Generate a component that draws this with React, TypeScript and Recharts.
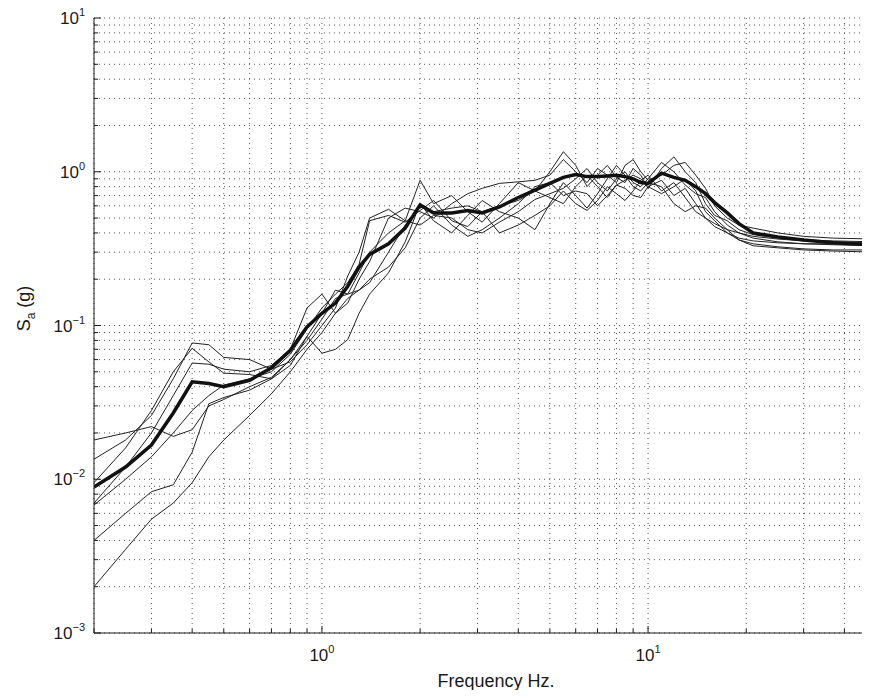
import React from "react";
import { LineChart, Line, XAxis, YAxis, CartesianGrid } from "recharts";

// frequency samples (Hz)
const FREQ = [
  0.2, 0.25, 0.3, 0.35, 0.4, 0.45, 0.5, 0.6, 0.7, 0.8, 0.9, 1.0, 1.1, 1.2, 1.3, 1.4, 1.6, 1.8, 2.0, 2.2,
  2.5, 2.8, 3.1, 3.5, 4.0, 4.5, 5.0, 5.5, 6.0, 6.5, 7.0, 7.5, 8.0, 8.5, 9.0, 9.5, 10, 11, 12, 13,
  14, 15, 16, 17.5, 19, 21, 25, 30, 37, 50,
];

// mean spectrum (thick line)
const MEAN = [
  0.0089, 0.012, 0.0167, 0.027, 0.043, 0.042, 0.04, 0.044, 0.053, 0.069, 0.098, 0.12, 0.14, 0.18, 0.24, 0.29, 0.34, 0.43, 0.61, 0.54,
  0.54, 0.56, 0.54, 0.59, 0.68, 0.76, 0.84, 0.92, 0.96, 0.93, 0.93, 0.94, 0.95, 0.93, 0.9, 0.85, 0.84, 0.98, 0.92, 0.88,
  0.8, 0.72, 0.63, 0.54, 0.46, 0.4, 0.377, 0.36, 0.345, 0.335,
];

// individual records (thin lines)
const REC1 = [
  0.018, 0.02, 0.022, 0.019, 0.021, 0.03, 0.033, 0.04, 0.046, 0.06, 0.085, 0.12, 0.17, 0.16, 0.22, 0.3, 0.4, 0.48, 0.88, 0.62,
  0.7, 0.55, 0.47, 0.62, 0.85, 0.75, 1.0, 1.35, 1.1, 0.8, 0.95, 1.1, 0.92, 0.85, 1.05, 0.95, 0.78, 1.05, 1.25, 1.0,
  0.85, 0.62, 0.52, 0.48, 0.42, 0.39, 0.37, 0.36, 0.355, 0.35,
];
const REC2 = [
  0.0135, 0.018, 0.026, 0.045, 0.077, 0.075, 0.062, 0.06, 0.052, 0.058, 0.075, 0.1, 0.13, 0.21, 0.3, 0.5, 0.57, 0.48, 0.45, 0.52,
  0.5, 0.42, 0.4, 0.47, 0.55, 0.66, 0.72, 0.78, 0.9, 1.05, 0.85, 0.75, 0.9, 1.0, 0.85, 0.8, 0.9, 1.15, 1.0, 0.82,
  0.72, 0.68, 0.55, 0.45, 0.4, 0.37, 0.35, 0.34, 0.335, 0.33,
];
const REC3 = [
  0.0095, 0.016, 0.028, 0.05, 0.071, 0.058, 0.049, 0.048, 0.045, 0.055, 0.085, 0.066, 0.07, 0.081, 0.12, 0.16, 0.22, 0.35, 0.62, 0.48,
  0.4, 0.52, 0.65, 0.55, 0.5, 0.42, 0.62, 0.85, 0.7, 0.58, 0.72, 0.9, 1.1, 0.95, 0.8, 0.75, 0.85, 0.8, 0.62, 0.55,
  0.6, 0.58, 0.5, 0.42, 0.36, 0.33, 0.32, 0.31, 0.305, 0.3,
];
const REC4 = [
  0.007, 0.012, 0.02, 0.035, 0.057, 0.056, 0.052, 0.05, 0.055, 0.07, 0.13, 0.16, 0.12, 0.14, 0.2, 0.26, 0.5, 0.58, 0.55, 0.5,
  0.62, 0.72, 0.78, 0.84, 0.86, 0.88, 0.95, 1.2, 1.0, 0.85, 1.05, 0.95, 0.85, 1.1, 1.2, 1.0, 0.88, 0.95, 1.1, 1.15,
  0.95, 0.78, 0.6, 0.5, 0.45, 0.43, 0.4, 0.38, 0.37, 0.365,
];
const REC5 = [
  0.0068, 0.01, 0.014, 0.02, 0.028, 0.035, 0.041, 0.045, 0.05, 0.065, 0.095, 0.13, 0.16, 0.19, 0.25, 0.48, 0.52, 0.47, 0.56, 0.65,
  0.48, 0.44, 0.55, 0.6, 0.65, 0.75, 0.68, 0.62, 0.8, 0.95, 0.8, 0.68, 0.82, 0.78, 0.7, 0.68, 0.8, 0.72, 0.8, 0.9,
  0.75, 0.55, 0.48, 0.4, 0.37, 0.355, 0.345, 0.34, 0.34, 0.34,
];
const REC6 = [
  0.004, 0.006, 0.0083, 0.0092, 0.015, 0.031, 0.034, 0.038, 0.045, 0.06, 0.08, 0.11, 0.15, 0.16, 0.17, 0.19, 0.3, 0.45, 0.6, 0.55,
  0.58, 0.6, 0.55, 0.4, 0.45, 0.52, 0.6, 0.75, 0.62, 0.56, 0.65, 0.8, 0.72, 0.65, 0.75, 0.88, 0.95, 0.75, 0.85, 0.68,
  0.55, 0.5, 0.46, 0.42, 0.4, 0.38, 0.365, 0.355, 0.35, 0.345,
];
const REC7 = [
  0.002, 0.0035, 0.0055, 0.007, 0.0095, 0.014, 0.018, 0.026, 0.036, 0.05, 0.07, 0.09, 0.12, 0.15, 0.17, 0.2, 0.24, 0.32, 0.5, 0.6,
  0.45, 0.38, 0.42, 0.5, 0.62, 0.8, 0.85, 0.7, 0.75, 0.72, 0.6, 0.7, 0.82, 0.88, 0.95, 0.9, 0.8, 0.88, 0.7, 0.78,
  0.62, 0.5, 0.44, 0.4, 0.36, 0.34, 0.325, 0.315, 0.31, 0.31,
];

const RECORDS = [REC1, REC2, REC3, REC4, REC5, REC6, REC7];

const X_TICKS = [0.2, 0.3, 0.4, 0.5, 0.6, 0.7, 0.8, 0.9, 1, 2, 3, 4, 5, 6, 7, 8, 9, 10, 20, 30, 40, 50];
const Y_TICKS = [
  0.001, 0.002, 0.003, 0.004, 0.005, 0.006, 0.007, 0.008, 0.009,
  0.01, 0.02, 0.03, 0.04, 0.05, 0.06, 0.07, 0.08, 0.09,
  0.1, 0.2, 0.3, 0.4, 0.5, 0.6, 0.7, 0.8, 0.9,
  1, 2, 3, 4, 5, 6, 7, 8, 9, 10,
];

const FONT = "'Liberation Sans', Arial, Helvetica, sans-serif";
const INK = "#1a1a1a";

const isMajor = (v: number) => Math.abs(Math.log10(v) - Math.round(Math.log10(v))) < 1e-6;
const expOf = (v: number) => {
  const e = Math.round(Math.log10(v));
  return e < 0 ? `\u2212${-e}` : `${e}`;
};

const PowerLabel = ({ x, y, v, anchor }: any) => (
  <text x={x} y={y} textAnchor={anchor} fontFamily={FONT} fontSize={17} fill={INK}>
    10
    <tspan dy={-8} fontSize={11}>{expOf(v)}</tspan>
  </text>
);

const BottomTick = ({ x, y, payload }: any) => {
  const major = isMajor(payload.value);
  return (
    <g>
      <line x1={x} y1={y} x2={x} y2={y - (major ? 7 : 4)} stroke={INK} strokeWidth={1} />
      {major && <PowerLabel x={x} y={y + 28} v={payload.value} anchor="middle" />}
    </g>
  );
};

const TopTick = ({ x, y, payload }: any) => {
  const major = isMajor(payload.value);
  return <line x1={x} y1={y} x2={x} y2={y + (major ? 7 : 4)} stroke={INK} strokeWidth={1} />;
};

const LeftTick = ({ x, y, payload }: any) => {
  const major = isMajor(payload.value);
  return (
    <g>
      <line x1={x} y1={y} x2={x + (major ? 7 : 4)} y2={y} stroke={INK} strokeWidth={1} />
      {major && <PowerLabel x={x - 9} y={y + 6} v={payload.value} anchor="end" />}
    </g>
  );
};

export default function App() {
  const data = FREQ.map((f, i) => {
    const row: Record<string, number> = { f, mean: MEAN[i] };
    RECORDS.forEach((r, k) => {
      row[`r${k + 1}`] = r[i];
    });
    return row;
  });

  return (
    <div style={{ margin: -8, width: 870, height: 698, overflow: "hidden" }}>
      <LineChart width={880} height={698} data={data} margin={{ top: 18, right: 4, left: 14, bottom: 5 }}>
        <CartesianGrid stroke="#555" strokeDasharray="1 4" strokeWidth={1} />
        <XAxis
          dataKey="f"
          type="number"
          scale="log"
          domain={[0.2, 50]}
          allowDataOverflow
          ticks={X_TICKS}
          interval={0}
          tickSize={0}
          tickMargin={0}
          height={60}
          axisLine={{ stroke: INK, strokeWidth: 1 }}
          tick={<BottomTick />}
          label={(props: any) => {
            const vb = props.viewBox;
            return (
              <text x={vb.x + vb.width / 2 + 11} y={vb.y + 54} textAnchor="middle" fontFamily={FONT} fontSize={18} fill={INK}>
                Frequency Hz.
              </text>
            );
          }}
        />
        <XAxis
          xAxisId="top"
          orientation="top"
          dataKey="f"
          type="number"
          scale="log"
          domain={[0.2, 50]}
          allowDataOverflow
          ticks={X_TICKS}
          interval={0}
          tickSize={0}
          tickMargin={0}
          height={0}
          axisLine={{ stroke: INK, strokeWidth: 1 }}
          tick={<TopTick />}
        />
        <YAxis
          type="number"
          scale="log"
          domain={[0.001, 10]}
          allowDataOverflow
          ticks={Y_TICKS}
          interval={0}
          tickSize={0}
          tickMargin={0}
          width={80}
          axisLine={{ stroke: INK, strokeWidth: 1 }}
          tick={<LeftTick />}
          label={(props: any) => {
            const vb = props.viewBox;
            const cx = 30;
            const cy = vb.y + vb.height / 2 - 17;
            return (
              <text
                x={cx}
                y={cy}
                transform={`rotate(-90, ${cx}, ${cy})`}
                textAnchor="middle"
                fontFamily={FONT}
                fontSize={18}
                fill={INK}
              >
                S
                <tspan dy={5} fontSize={12}>a</tspan>
                <tspan dy={-5}> (g)</tspan>
              </text>
            );
          }}
        />
        {RECORDS.map((_, k) => (
          <Line
            key={k}
            type="linear"
            dataKey={`r${k + 1}`}
            stroke="#222"
            strokeWidth={1}
            dot={false}
            activeDot={false}
            isAnimationActive={false}
          />
        ))}
        <Line
          type="linear"
          dataKey="mean"
          stroke="#111"
          strokeWidth={3.5}
          dot={false}
          activeDot={false}
          isAnimationActive={false}
        />
      </LineChart>
    </div>
  );
}
